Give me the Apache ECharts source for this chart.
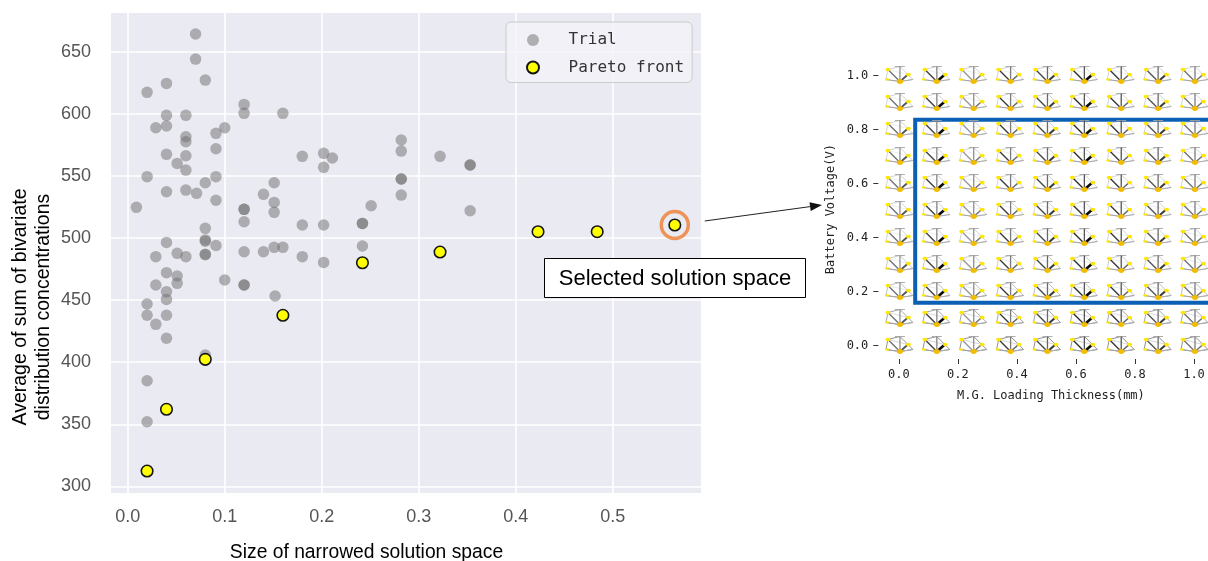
<!DOCTYPE html>
<html><head><meta charset="utf-8">
<script src="https://cdn.jsdelivr.net/npm/echarts@6/dist/echarts.min.js"></script>
<style>html,body{margin:0;padding:0;background:#fff}#c{width:1208px;height:561px}</style>
</head><body><div id="c"></div>
<script>
// ---- main scatter data ----
const trialX = [0.070,0.070,0.080,0.040,0.020,0.120,0.120,0.160,0.040,0.060,0.029,0.040,0.060,0.060,0.091,0.100,
  0.040,0.060,0.091,0.051,0.060,0.020,0.091,0.080,0.040,0.060,0.071,0.091,0.009,0.120,0.120,0.120,0.151,0.140,0.151,0.151,
  0.080,0.080,0.091,0.040,0.080,0.080,0.080,0.029,0.051,0.060,0.120,0.140,0.151,0.160,0.040,0.051,0.051,0.029,0.100,0.120,0.120,
  0.152,0.040,0.040,0.020,0.020,0.040,0.029,0.040,0.080,0.020,0.020,
  0.180,0.202,0.202,0.211,0.282,0.282,0.322,0.353,0.353,0.282,0.282,0.282,0.251,0.353,0.180,0.202,0.242,0.242,0.242,0.180,0.202];
const trialY = [664.3,644.1,627.2,624.5,617.3,607.6,600.4,600.4,598.8,598.8,588.8,590.2,581.6,577.5,584.3,588.8,
  567.4,566.3,571.9,560.1,554.7,549.4,549.4,544.5,537.3,538.6,536.0,530.4,524.7,523.1,523.1,513.1,544.5,535.2,528.7,520.7,
  507.8,498.5,494.0,496.5,497.5,487.0,486.5,485.0,487.7,485.0,489.0,489.0,492.5,492.5,472.1,469.4,463.5,462.2,466.2,462.2,462.2,
  453.3,456.8,450.6,446.9,437.8,437.8,430.5,419.3,405.8,385.1,352.1,
  565.8,568.2,556.9,564.4,578.9,570.0,565.8,558.8,558.8,547.5,547.5,534.6,526.0,522.0,510.5,510.5,511.8,511.8,493.6,485.0,480.4];
const paretoX = [0.020,0.040,0.080,0.160,0.242,0.322,0.423,0.484,0.564];
const paretoY = [312.4,362.1,402.3,437.8,480.1,488.7,505.1,505.1,510.5];
const selectedIndex = 8;
const xTicks = [0.0,0.1,0.2,0.3,0.4,0.5];
const yTicks = [300,350,400,450,500,550,600,650];

// ---- inset (glyph grid) data ----
const insetXTicks = [0.0,0.2,0.4,0.6,0.8,1.0];
const insetYTicks = [0.0,0.2,0.4,0.6,0.8,1.0];
const glyphCols = [0,0.125,0.25,0.375,0.5,0.625,0.75,0.875,1.0];
const glyphRows = [0,0.1,0.2,0.3,0.4,0.5,0.6,0.7,0.8,0.9,1.0];
const glyphUL = [0.45,0.7,0.25,0.75,0.7,0.8,0.75,0.6,0.45];   // upper-left spoke strength per column
const glyphUR = [0.6,1.0,0.45,0.5,0.75,1.0,0.5,0.75,0.45];    // upper-right spoke strength per column
const glyphUp = [0.3,0.35,0.3,0.4,0.5,0.6,0.6,0.5,0.4];       // vertical spoke strength per column
const glyphOutline = [0.85,0.7,0.5,0.4,0.35,0.35,0.35,0.35,0.35,0.35,0.35]; // outline strength per row
const selectBoxX = [0.055,1.12];
const selectBoxY = [0.158,0.836];

const trialData = trialX.map((x,i)=>[x,trialY[i]]);
const paretoData = paretoX.map((x,i)=>[x,paretoY[i]]);
const glyphData = [];
glyphRows.forEach((r,ri)=>glyphCols.forEach((c,ci)=>glyphData.push([c,r,glyphUL[ci],glyphUR[ci],glyphUp[ci],glyphOutline[ri]])));

function grayOf(v){const g=Math.round(200-v*190);return 'rgb('+g+','+g+','+g+')';}
function renderGlyph(params, api){
  const p = api.coord([api.value(0), api.value(1)]);
  const ul=api.value(2), ur=api.value(3), up=api.value(4), ol=api.value(5);
  const bx=p[0]+1, by=p[1]+6;
  const E={up:[bx,by-15],ul:[bx-12,by-12],l:[bx-14,by-2],ur:[bx+8,by-7],r:[bx+13,by-2]};
  const ch=[];
  ch.push({type:'polyline',shape:{points:[E.l,E.ul,E.up,E.ur,E.r,[bx,by],E.l]},style:{stroke:'rgba(110,110,110,'+ol+')',lineWidth:0.9,fill:null}});
  ch.push({type:'line',shape:{x1:E.ul[0],y1:E.ul[1],x2:E.ur[0],y2:E.ur[1]},style:{stroke:'rgba(150,150,150,'+(ol*0.6)+')',lineWidth:0.8}});
  ch.push({type:'line',shape:{x1:bx-5,y1:by-15,x2:bx+5,y2:by-15},style:{stroke:'rgba(165,165,165,0.9)',lineWidth:1}});
  const spoke=(e,v,w)=>({type:'line',shape:{x1:bx,y1:by,x2:e[0],y2:e[1]},style:{stroke:grayOf(v),lineWidth:w}});
  ch.push(spoke(E.l,0.2,1),spoke(E.r,0.15,1),spoke(E.up,up,1.3),spoke(E.ul,ul,1.4),spoke(E.ur,ur,0.8+ur*1.7));
  ch.push({type:'ellipse',shape:{cx:E.ul[0],cy:E.ul[1],rx:2.4,ry:1.8},style:{fill:'#FFE600'}});
  ch.push({type:'ellipse',shape:{cx:E.l[0]+1,cy:E.l[1],rx:2,ry:1.2},style:{fill:'#FFE600'}});
  ch.push({type:'ellipse',shape:{cx:E.ur[0]+0.5,cy:E.ur[1],rx:2.4,ry:1.8},style:{fill:'#FFE600'}});
  ch.push({type:'ellipse',shape:{cx:bx,cy:by,rx:3.2,ry:2.4},style:{fill:'#F2BC00'}});
  return {type:'group',children:ch};
}

const chart = echarts.init(document.getElementById('c'), null, {renderer:'canvas'});
const tickFont = "'Liberation Sans',Arial,sans-serif";
const mono = "'DejaVu Sans Mono','Liberation Mono',monospace";
const whiteLine = {show:true,onZero:false,lineStyle:{color:'#ffffff',width:1}};
chart.setOption({
  animation:false,
  backgroundColor:'#ffffff',
  grid:[
    {left:111,top:13,width:590,height:480,show:true,backgroundColor:'#EAEAF2',borderWidth:0,outerBoundsMode:'none'},
    {left:878.3,top:59.3,width:345.2,height:299.7,show:false,outerBoundsMode:'none'}
  ],
  xAxis:[
    {gridIndex:0,type:'value',min:-0.0172,max:0.591,
     axisLine:{show:false},axisTick:{show:false,customValues:xTicks},
     axisLabel:{customValues:xTicks,formatter:v=>v.toFixed(1),margin:15,fontSize:18,color:'#555',fontFamily:tickFont},
     splitLine:{show:true,lineStyle:{color:'#ffffff',width:1.6}}},
    {gridIndex:1,type:'value',min:-0.07,max:1.1,
     axisLine:whiteLine,axisTick:{show:true,inside:false,length:5,customValues:insetXTicks,lineStyle:{color:'#333333',width:1}},
     axisLabel:{customValues:insetXTicks,formatter:v=>v.toFixed(1),margin:10,fontSize:12,color:'#222',fontFamily:mono},
     splitLine:{show:false},
     name:'M.G. Loading Thickness(mm)',nameLocation:'middle',nameGap:31,
     nameTextStyle:{fontSize:12,color:'#222',fontFamily:mono}}
  ],
  yAxis:[
    {gridIndex:0,type:'value',min:294.7,max:681.2,
     axisLine:{show:false},axisTick:{show:false,customValues:yTicks},
     axisLabel:{customValues:yTicks,margin:20,fontSize:18,color:'#555',fontFamily:tickFont},
     splitLine:{show:true,lineStyle:{color:'#ffffff',width:1.6}}},
    {gridIndex:1,type:'value',min:-0.05,max:1.06,
     axisLine:whiteLine,axisTick:{show:true,inside:false,length:5,customValues:insetYTicks,lineStyle:{color:'#333333',width:1}},
     axisLabel:{customValues:insetYTicks,formatter:v=>v.toFixed(1),margin:10,fontSize:12,color:'#222',fontFamily:mono},
     splitLine:{show:false},
     name:'Battery Voltage(V)',nameLocation:'middle',nameGap:41,
     nameTextStyle:{fontSize:12,color:'#222',fontFamily:mono}}
  ],
  legend:{
    data:['Trial','Pareto front'],orient:'vertical',left:506,top:22,
    padding:[8,8,5,20],itemGap:7.5,itemWidth:61,itemHeight:12,icon:'circle',
    backgroundColor:'rgba(242,242,247,0.8)',borderColor:'#CCCCCC',borderWidth:1,borderRadius:5,
    textStyle:{fontFamily:mono,fontSize:16,color:'#333',lineHeight:20},
    selectedMode:false
  },
  series:[
    {name:'Trial',type:'scatter',xAxisIndex:0,yAxisIndex:0,data:trialData,symbolSize:11.5,
     itemStyle:{color:'#6e6e6e',opacity:0.5},z:2},
    {name:'Pareto front',type:'scatter',xAxisIndex:0,yAxisIndex:0,data:paretoData,symbolSize:11.5,
     itemStyle:{color:'#FFFF00',borderColor:'#151515',borderWidth:1.6,opacity:1},z:3},
    {name:'selected',type:'scatter',xAxisIndex:0,yAxisIndex:0,data:[paretoData[selectedIndex]],symbolSize:27,
     itemStyle:{color:'rgba(0,0,0,0)',borderColor:'#ED7D31',borderWidth:3.5},z:4,silent:true},
    {name:'glyphs',type:'custom',xAxisIndex:1,yAxisIndex:1,data:glyphData,renderItem:renderGlyph,
     encode:{x:0,y:1},clip:false,silent:true,z:2,
     markArea:{silent:true,itemStyle:{color:'rgba(0,0,0,0)',borderColor:'#0B60B5',borderWidth:4},
       data:[[{xAxis:selectBoxX[0],yAxis:selectBoxY[1]},{xAxis:selectBoxX[1],yAxis:selectBoxY[0]}]]}}
  ]
});

// annotations
const ring = chart.convertToPixel({gridIndex:0}, paretoData[selectedIndex]);
const sx = ring[0]+30, sy = ring[1]-4;
const ex = 822, ey = 205;
const ang = Math.atan2(ey-sy, ex-sx);
const hl = 12, hw = 4.5;
const bx = ex - hl*Math.cos(ang), by = ey - hl*Math.sin(ang);
const px = -Math.sin(ang)*hw, py = Math.cos(ang)*hw;
chart.setOption({
  graphic:[
    {type:'text',x:32,y:307,rotation:Math.PI/2,
     style:{text:'Average of sum of bivariate\ndistribution concentrations',fill:'#000',
       font:"19.5px 'Liberation Sans', Arial, sans-serif",align:'center',verticalAlign:'middle',lineHeight:22.5}},
    {type:'text',x:366.5,y:553,
     style:{text:'Size of narrowed solution space',fill:'#000',
       font:"19.3px 'Liberation Sans', Arial, sans-serif",align:'center',verticalAlign:'middle'}},
    {type:'rect',shape:{x:544.5,y:258.5,width:261,height:39},style:{fill:'#fff',stroke:'#000',lineWidth:1},z:100},
    {type:'text',x:675,y:278.5,z:101,
     style:{text:'Selected solution space',fill:'#000',font:"22px 'Liberation Sans', Arial, sans-serif",align:'center',verticalAlign:'middle'}},
    {type:'line',shape:{x1:sx,y1:sy,x2:bx,y2:by},style:{stroke:'#222',lineWidth:1},z:100},
    {type:'polygon',shape:{points:[[ex,ey],[bx+px,by+py],[bx-px,by-py]]},style:{fill:'#111'},z:100}
  ]
});
</script></body></html>
